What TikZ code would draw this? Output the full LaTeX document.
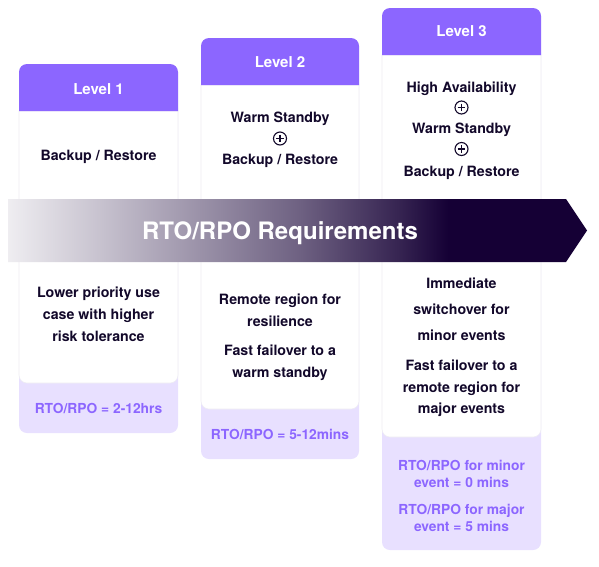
\documentclass[tikz,border=0pt]{standalone}
\usepackage{fontspec}
\setmainfont{TeX Gyre Heros}
\definecolor{hdr}{HTML}{8C66FF}
\definecolor{ftr}{HTML}{E8E0FF}
\definecolor{ftxt}{HTML}{8C66FF}
\definecolor{ink}{HTML}{12082A}
\definecolor{band}{HTML}{150035}
\definecolor{edge}{HTML}{EEEDF3}
\pgfdeclarehorizontalshading{bandshade}{100bp}{color(0bp)=(white); color(25bp)=(white!93!band); color(33bp)=(white!76!band); color(41.6bp)=(white!57!band); color(50.2bp)=(white!38!band); color(58.8bp)=(white!14!band); color(63bp)=(band); color(100bp)=(band)}
\tikzset{
  hdrtxt/.style={text=white, font=\bfseries\fontsize{15}{17}\selectfont, inner sep=0pt, yshift=-1.5pt},
  bodytxt/.style={text=ink, font=\bfseries\fontsize{14.2}{22}\selectfont, align=center, inner sep=0pt, yshift=-1.5pt},
  ftrtxt/.style={text=ftxt, font=\bfseries\fontsize{13.8}{17}\selectfont, align=center, inner sep=0pt},
  plussym/.style={circle, draw=ink, line width=1.1pt, minimum size=13pt, inner sep=0pt,
    path picture={\draw[ink, line width=1.1pt]
      ([yshift=-2.6pt]path picture bounding box.north) -- ([yshift=2.6pt]path picture bounding box.south)
      ([xshift=2.6pt]path picture bounding box.west) -- ([xshift=-2.6pt]path picture bounding box.east);}},
  titletxt/.style={text=white, font=\bfseries\fontsize{24}{26}\selectfont, inner sep=0pt, yshift=-2.5pt},
  footbox/.style={fill=ftr, rounded corners=8pt},
  bodybox/.style={fill=white, draw=edge, line width=0.6pt},
  headbox/.style={fill=hdr}
}
\begin{document}
\begin{tikzpicture}[x=1pt, y=-1pt]
\useasboundingbox (0,0) rectangle (599,566);
\fill[white] (0,0) rectangle (599,566);

% ---------- Card 1 ----------
\fill[footbox] (19,100) rectangle (178,433);
\path[bodybox] (19,111) -- (178,111) [rounded corners=8pt] -- (178,383) -- (19,383) [sharp corners] -- cycle;
\fill[headbox] (19,111) [rounded corners=8pt] -- (19,64) -- (178,64) [sharp corners] -- (178,111) -- cycle;

% ---------- Card 2 ----------
\fill[footbox] (201,75) rectangle (359,459);
\path[bodybox] (201,85) -- (359,85) [rounded corners=8pt] -- (359,409) -- (201,409) [sharp corners] -- cycle;
\fill[headbox] (201,85) [rounded corners=8pt] -- (201,38) -- (359,38) [sharp corners] -- (359,85) -- cycle;

% ---------- Card 3 ----------
\fill[footbox] (382,45) rectangle (541,550);
\path[bodybox] (382,55) -- (541,55) [rounded corners=8pt] -- (541,437) -- (382,437) [sharp corners] -- cycle;
\fill[headbox] (382,55) [rounded corners=8pt] -- (382,8) -- (541,8) [sharp corners] -- (541,55) -- cycle;

% ---------- Band arrow ----------
\shade[shading=bandshade] (8,199) -- (566,199) -- (587,230.5) -- (566,262) -- (8,262) -- cycle;
\node[titletxt] (title) at (280,231) {RTO/RPO Requirements};

% ---------- Card 1 text ----------
\node[hdrtxt] (l1) at (98.5,88) {Level 1};
\node[bodytxt] (c1a) at (98.5,155) {Backup / Restore};
\node[bodytxt, yshift=1.5pt] (c1b) at (98.5,314) {Lower priority use\\case with higher\\risk tolerance};
\node[ftrtxt] (c1f) at (98.5,408) {RTO/RPO = 2-12hrs};

% ---------- Card 2 text ----------
\node[hdrtxt] (l2) at (280,61) {Level 2};
\node[bodytxt] (c2a) at (280,117) {Warm Standby};
\node[plussym] (c2p) at (280,138.5) {};
\node[bodytxt] (c2b) at (280,159) {Backup / Restore};
\node[bodytxt] (c2c) at (280,308.5) {Remote region for\\resilience};
\node[bodytxt] (c2d) at (280,361) {Fast failover to a\\warm standby};
\node[ftrtxt] (c2f) at (280,434) {RTO/RPO = 5-12mins};

% ---------- Card 3 text ----------
\node[hdrtxt] (l3) at (461.5,30) {Level 3};
\node[bodytxt] (c3a) at (461.5,87) {High Availability};
\node[plussym] (c3p1) at (461.5,107.5) {};
\node[bodytxt] (c3b) at (461.5,128) {Warm Standby};
\node[plussym] (c3p2) at (461.5,149) {};
\node[bodytxt] (c3c) at (461.5,171) {Backup / Restore};
\node[bodytxt, font=\bfseries\fontsize{14.2}{26}\selectfont, yshift=1pt] (c3d) at (461.5,309) {Immediate\\switchover for\\minor events};
\node[bodytxt, font=\bfseries\fontsize{14.2}{21.5}\selectfont] (c3e) at (461.5,387) {Fast failover to a\\remote region for\\major events};
\node[ftrtxt] (c3f) at (461.5,473.5) {RTO/RPO for minor\\event = 0 mins};
\node[ftrtxt] (c3g) at (461.5,517.5) {RTO/RPO for major\\event = 5 mins};
\end{tikzpicture}
\end{document}
